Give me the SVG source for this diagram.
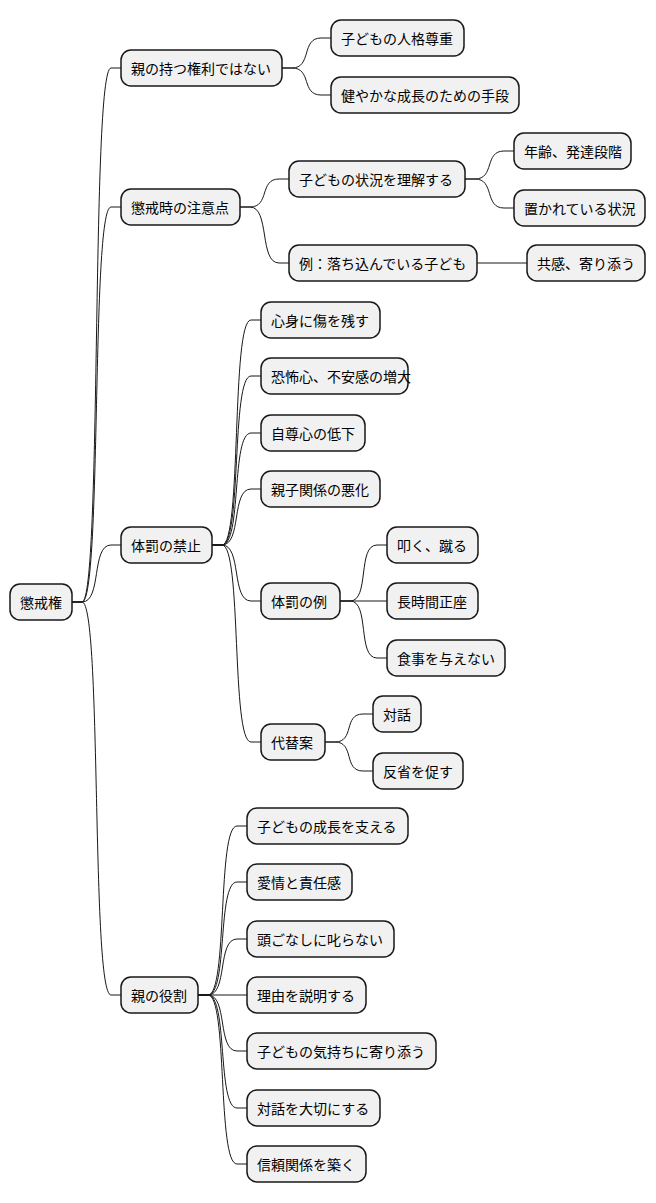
<svg xmlns="http://www.w3.org/2000/svg" width="656" height="1203" viewBox="0 0 656 1203">
<style>
.n rect{fill:#F1F1F1;stroke:#181818;stroke-width:1.5}
.n text{font-family:"Noto Sans CJK JP","Noto Sans",sans-serif;font-size:14px;fill:#000;dominant-baseline:central}
#c path{fill:none;stroke:#181818;stroke-width:1}
</style>
<rect width="656" height="1203" fill="#fff"/>
<g id="c">
<path d="M72,602 L82,602 C102,602 91,68 111,68 L121,68"/>
<path d="M72,602 L82,602 C102,602 91,207 111,207 L121,207"/>
<path d="M72,602 L82,602 C102,602 91,545 111,545 L121,545"/>
<path d="M72,602 L82,602 C102,602 91,995 111,995 L121,995"/>
<path d="M282,68 L292,68 C312,68 301,38 321,38 L331,38"/>
<path d="M282,68 L292,68 C312,68 301,95 321,95 L331,95"/>
<path d="M240,207 L250,207 C270,207 259,179 279,179 L289,179"/>
<path d="M240,207 L250,207 C270,207 259,263 279,263 L289,263"/>
<path d="M465,179 L475,179 C495,179 484,151 504,151 L514,151"/>
<path d="M465,179 L475,179 C495,179 484,208 504,208 L514,208"/>
<path d="M477,263 L527,263"/>
<path d="M212,545 L222,545 C242,545 231,320 251,320 L261,320"/>
<path d="M212,545 L222,545 C242,545 231,376 251,376 L261,376"/>
<path d="M212,545 L222,545 C242,545 231,433 251,433 L261,433"/>
<path d="M212,545 L222,545 C242,545 231,489 251,489 L261,489"/>
<path d="M212,545 L222,545 C242,545 231,601 251,601 L261,601"/>
<path d="M212,545 L222,545 C242,545 231,742 251,742 L261,742"/>
<path d="M340,601 L350,601 C370,601 357,545 377,545 L387,545"/>
<path d="M340,601 L387,601"/>
<path d="M340,601 L350,601 C370,601 357,658 377,658 L387,658"/>
<path d="M325,742 L335,742 C355,742 343,714 363,714 L373,714"/>
<path d="M325,742 L335,742 C355,742 343,771 363,771 L373,771"/>
<path d="M198,995 L208,995 C228,995 217,826 237,826 L247,826"/>
<path d="M198,995 L208,995 C228,995 217,882 237,882 L247,882"/>
<path d="M198,995 L208,995 C228,995 217,939 237,939 L247,939"/>
<path d="M198,995 L247,995"/>
<path d="M198,995 L208,995 C228,995 217,1051 237,1051 L247,1051"/>
<path d="M198,995 L208,995 C228,995 217,1108 237,1108 L247,1108"/>
<path d="M198,995 L208,995 C228,995 217,1164 237,1164 L247,1164"/>
</g>
<g id="root" class="n"><rect x="10" y="584" width="62" height="36" rx="10"/><text x="20" y="602">懲戒権</text></g>
<g id="n1" class="n"><rect x="121" y="50" width="161" height="36" rx="10"/><text x="131" y="68">親の持つ権利ではない</text></g>
<g id="n1a" class="n"><rect x="331" y="20" width="133" height="36" rx="10"/><text x="341" y="38">子どもの人格尊重</text></g>
<g id="n1b" class="n"><rect x="331" y="77" width="188" height="36" rx="10"/><text x="341" y="95">健やかな成長のための手段</text></g>
<g id="n2" class="n"><rect x="121" y="189" width="119" height="36" rx="10"/><text x="131" y="207">懲戒時の注意点</text></g>
<g id="n2a" class="n"><rect x="289" y="161" width="176" height="36" rx="10"/><text x="299" y="179">子どもの状況を理解する</text></g>
<g id="n2a1" class="n"><rect x="514" y="133" width="117" height="36" rx="10"/><text x="524" y="151">年齢、発達段階</text></g>
<g id="n2a2" class="n"><rect x="514" y="190" width="131" height="36" rx="10"/><text x="524" y="208">置かれている状況</text></g>
<g id="n2b" class="n"><rect x="289" y="245" width="188" height="36" rx="10"/><text x="299" y="263">例：落ち込んでいる子ども</text></g>
<g id="n2b1" class="n"><rect x="527" y="245" width="118" height="36" rx="10"/><text x="537" y="263">共感、寄り添う</text></g>
<g id="n3" class="n"><rect x="121" y="527" width="91" height="36" rx="10"/><text x="131" y="545">体罰の禁止</text></g>
<g id="n3a" class="n"><rect x="261" y="302" width="119" height="36" rx="10"/><text x="271" y="320">心身に傷を残す</text></g>
<g id="n3b" class="n"><rect x="261" y="358" width="147" height="36" rx="10"/><text x="271" y="376">恐怖心、不安感の増大</text></g>
<g id="n3c" class="n"><rect x="261" y="415" width="104" height="36" rx="10"/><text x="271" y="433">自尊心の低下</text></g>
<g id="n3d" class="n"><rect x="261" y="471" width="119" height="36" rx="10"/><text x="271" y="489">親子関係の悪化</text></g>
<g id="n3e" class="n"><rect x="261" y="583" width="79" height="36" rx="10"/><text x="271" y="601">体罰の例</text></g>
<g id="n3e1" class="n"><rect x="387" y="527" width="91" height="36" rx="10"/><text x="397" y="545">叩く、蹴る</text></g>
<g id="n3e2" class="n"><rect x="387" y="583" width="91" height="36" rx="10"/><text x="397" y="601">長時間正座</text></g>
<g id="n3e3" class="n"><rect x="387" y="640" width="118" height="36" rx="10"/><text x="397" y="658">食事を与えない</text></g>
<g id="n3f" class="n"><rect x="261" y="724" width="64" height="36" rx="10"/><text x="271" y="742">代替案</text></g>
<g id="n3f1" class="n"><rect x="373" y="696" width="48" height="36" rx="10"/><text x="383" y="714">対話</text></g>
<g id="n3f2" class="n"><rect x="373" y="753" width="90" height="36" rx="10"/><text x="383" y="771">反省を促す</text></g>
<g id="n4" class="n"><rect x="121" y="977" width="77" height="36" rx="10"/><text x="131" y="995">親の役割</text></g>
<g id="n4a" class="n"><rect x="247" y="808" width="161" height="36" rx="10"/><text x="257" y="826">子どもの成長を支える</text></g>
<g id="n4b" class="n"><rect x="247" y="864" width="105" height="36" rx="10"/><text x="257" y="882">愛情と責任感</text></g>
<g id="n4c" class="n"><rect x="247" y="921" width="147" height="36" rx="10"/><text x="257" y="939">頭ごなしに叱らない</text></g>
<g id="n4d" class="n"><rect x="247" y="977" width="119" height="36" rx="10"/><text x="257" y="995">理由を説明する</text></g>
<g id="n4e" class="n"><rect x="247" y="1033" width="189" height="36" rx="10"/><text x="257" y="1051">子どもの気持ちに寄り添う</text></g>
<g id="n4f" class="n"><rect x="247" y="1090" width="133" height="36" rx="10"/><text x="257" y="1108">対話を大切にする</text></g>
<g id="n4g" class="n"><rect x="247" y="1146" width="119" height="36" rx="10"/><text x="257" y="1164">信頼関係を築く</text></g>
</svg>
